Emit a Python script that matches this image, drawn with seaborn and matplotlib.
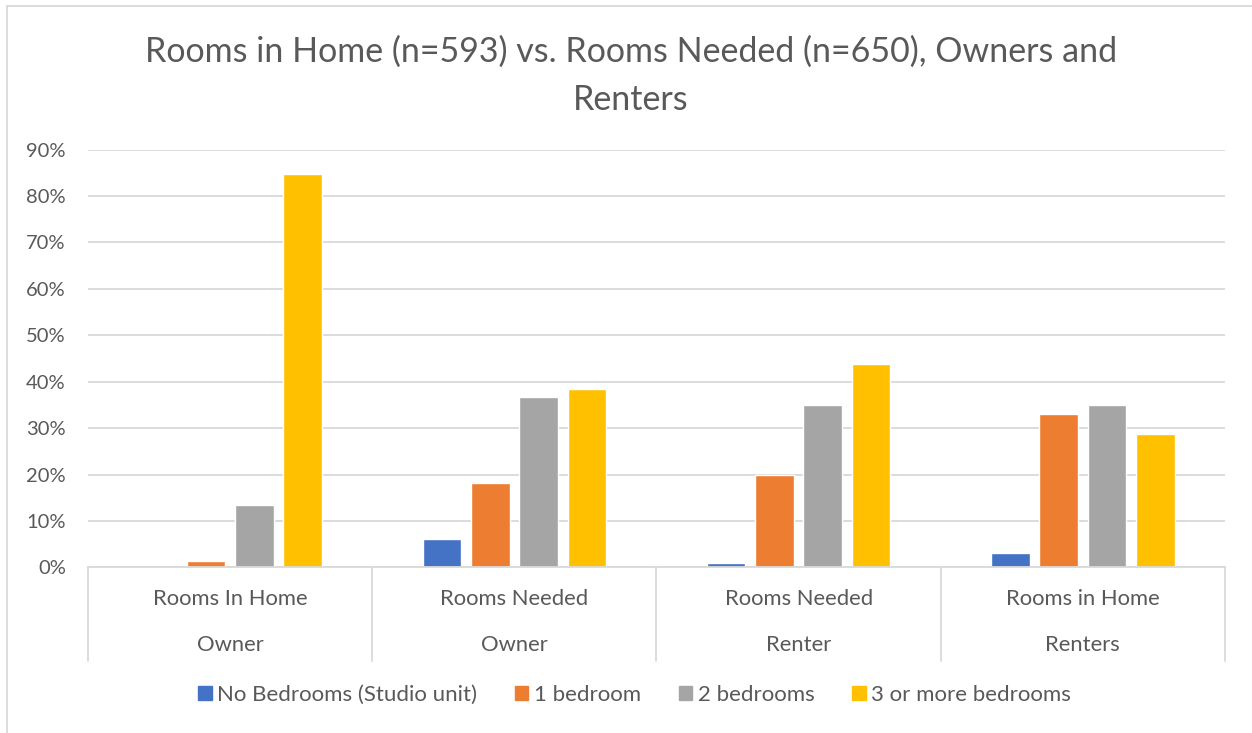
import matplotlib
matplotlib.use("Agg")
import matplotlib.pyplot as plt
import matplotlib.transforms as mtransforms
from matplotlib.lines import Line2D
import seaborn as sns
import pandas as pd

# Survey shares by group (fraction of respondents)
groups = ["Rooms In Home\nOwner", "Rooms Needed\nOwner", "Rooms Needed\nRenter", "Rooms in Home\nRenters"]
row1_labels = ["Rooms In Home", "Rooms Needed", "Rooms Needed", "Rooms in Home"]
row2_labels = ["Owner", "Owner", "Renter", "Renters"]
sizes = ["No Bedrooms (Studio unit)", "1 bedroom", "2 bedrooms", "3 or more bedrooms"]
studio = [0.0, 0.061, 0.009, 0.031]
one_bed = [0.013, 0.182, 0.198, 0.330]
two_bed = [0.135, 0.368, 0.350, 0.350]
three_plus = [0.848, 0.384, 0.438, 0.287]
palette = ["#4472C4", "#ED7D31", "#A5A5A5", "#FFC000"]
yticks = [0.0, 0.1, 0.2, 0.3, 0.4, 0.5, 0.6, 0.7, 0.8, 0.9]
title = "Rooms in Home (n=593) vs. Rooms Needed (n=650), Owners and\nRenters"

rows = []
for series, vals in zip(sizes, [studio, one_bed, two_bed, three_plus]):
    for g, v in zip(groups, vals):
        rows.append({"group": g, "size": series, "share": v})
df = pd.DataFrame(rows)

sns.set_theme(style="white")
plt.rcParams["font.family"] = ["Lato", "DejaVu Sans"]
text_color = "#595959"
grid_color = "#D9D9D9"

fig = plt.figure(figsize=(12.52, 7.33), dpi=100)
ax = fig.add_axes([0.0703, 0.2260, 0.9081, 0.5698])

sns.barplot(data=df, x="group", y="share", hue="size", order=groups,
            hue_order=sizes, palette=palette, width=0.68, gap=0.2,
            saturation=1, ax=ax, legend=False)

ax.set_xlim(-0.5, 3.5)
ax.set_ylim(0, 0.9)
ax.set_yticks(yticks)
ax.set_yticklabels([f"{int(round(t * 100))}%" for t in yticks],
                   fontsize=14.5, color=text_color)
ax.tick_params(axis="y", length=0, pad=16)
ax.set_xticks([])
ax.set_xlabel("")
ax.set_ylabel("")
ax.yaxis.grid(True, color=grid_color, linewidth=1.3)
ax.set_axisbelow(True)
for s in ["top", "right", "left"]:
    ax.spines[s].set_visible(False)
ax.spines["bottom"].set_color(grid_color)
ax.spines["bottom"].set_linewidth(1.3)

# Two-level category axis with separators
trans = mtransforms.blended_transform_factory(ax.transData, ax.transAxes)
for xb in [-0.5, 0.5, 1.5, 2.5, 3.5]:
    ax.add_line(Line2D([xb, xb], [0, -0.224], transform=trans, color=grid_color,
                       linewidth=1.3, clip_on=False))
for i, (a, b) in enumerate(zip(row1_labels, row2_labels)):
    ax.text(i, -0.076, a, transform=trans, ha="center", va="center",
            fontsize=15.8, color=text_color)
    ax.text(i, -0.186, b, transform=trans, ha="center", va="center",
            fontsize=15.8, color=text_color)

fig.text(0.504, 1 - 76 / 733, title, ha="center", va="center", fontsize=24.5,
         color=text_color, linespacing=1.6)

handles = [plt.Rectangle((0, 0), 1, 1, color=c) for c in palette]
fig.legend(handles, sizes, loc="center", bbox_to_anchor=(0.507, 1 - 695 / 733),
           ncol=4, frameon=False, fontsize=16, labelcolor=text_color,
           handlelength=0.6, handleheight=0.6, handletextpad=0.25,
           columnspacing=1.7)

# Chart frame (top and left edges)
fig.add_artist(Line2D([7 / 1252, 1], [1 - 6 / 733, 1 - 6 / 733],
                      transform=fig.transFigure, color=grid_color, linewidth=1.3))
fig.add_artist(Line2D([7 / 1252, 7 / 1252], [0, 1 - 6 / 733],
                      transform=fig.transFigure, color=grid_color, linewidth=1.3))

fig.savefig("out.png", dpi=100, facecolor="white")
